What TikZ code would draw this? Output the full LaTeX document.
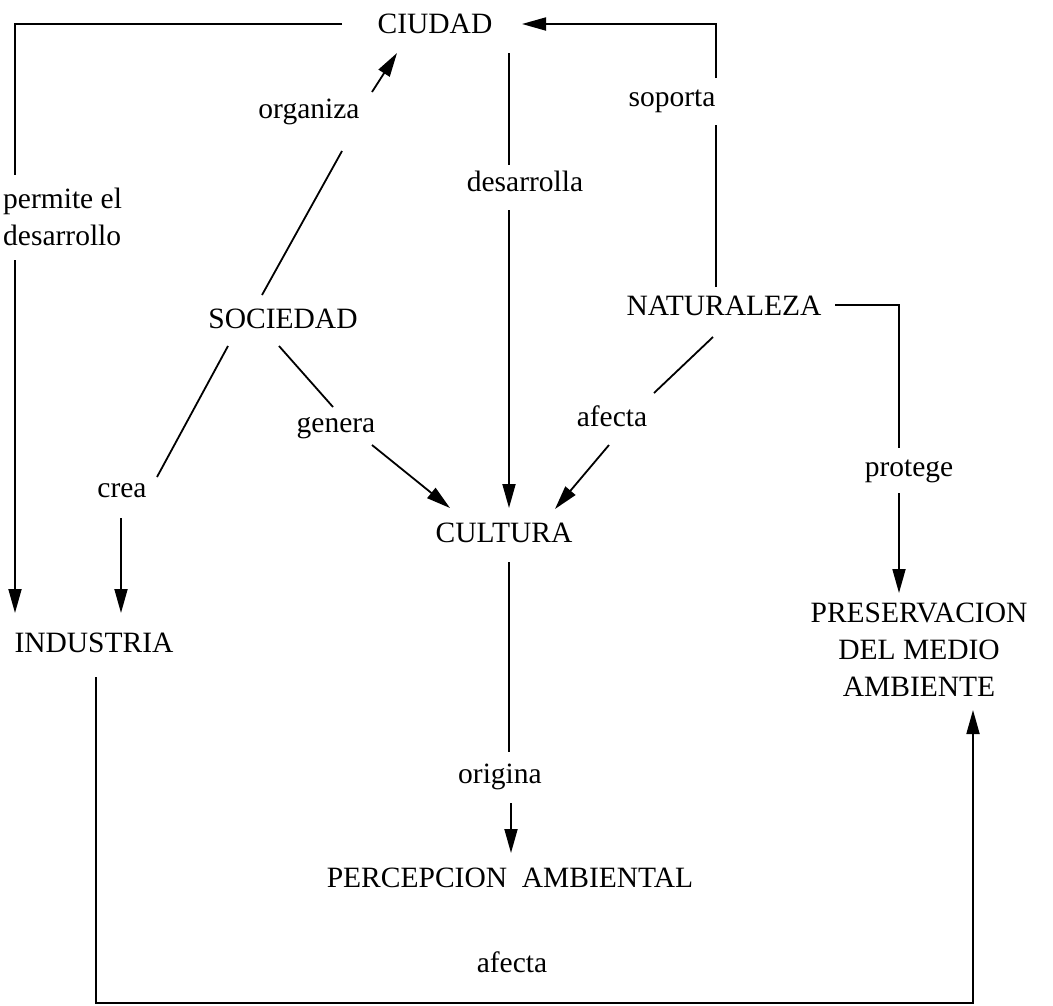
\documentclass[tikz,border=0pt]{standalone}
\usepackage{fontspec}
\setmainfont{Liberation Serif}
\usetikzlibrary{arrows.meta}
\begin{document}
\begin{tikzpicture}[x=1pt,y=-1pt,
  lbl/.style={inner sep=0pt,anchor=base,font=\fontsize{29.5}{36}\selectfont},
  con/.style={line width=1.8pt},
  arr/.style={con,-{Triangle[length=24pt,width=13pt]}}]
\useasboundingbox (0,0) rectangle (1053,1005);

% concepts
\node[lbl] (ciudad) at (435,33) {CIUDAD};
\node[lbl] (sociedad) at (283,328) {SOCIEDAD};
\node[lbl] (naturaleza) at (724,315) {NATURALEZA};
\node[lbl] (cultura) at (504,542) {CULTURA};
\node[lbl] (industria) at (94,652) {INDUSTRIA};
\node[lbl] (pres1) at (919,622) {PRESERVACION};
\node[lbl] (pres2) at (919,659) {DEL MEDIO};
\node[lbl] (pres3) at (919,696) {AMBIENTE};
\node[lbl] (percepcion) at (510,887) {PERCEPCION\hspace{0.5em}AMBIENTAL};

% link words
\node[lbl] (organiza) at (309,118) {organiza};
\node[lbl] (desarrolla) at (525,191) {desarrolla};
\node[lbl] (soporta) at (672,106) {soporta};
\node[lbl,anchor=base west] (permite1) at (3,208) {permite el};
\node[lbl,anchor=base west] (permite2) at (3,245) {desarrollo};
\node[lbl] (genera) at (336,432) {genera};
\node[lbl] (afecta1) at (612,426) {afecta};
\node[lbl] (crea) at (122,497) {crea};
\node[lbl] (protege) at (909,476) {protege};
\node[lbl] (origina) at (500,783) {origina};
\node[lbl] (afecta2) at (512,972) {afecta};

% connector ends
\coordinate (ciu-w) at (342,24);
\coordinate (ciu-corner) at (15,24);
\coordinate (per-top) at (15,175);
\coordinate (per-bot) at (15,260);
\coordinate (ind-in1) at (15,613);

\coordinate (soc-org) at (262,295);
\coordinate (org-bot) at (342,151);
\coordinate (org-top) at (372,92);
\coordinate (ciu-in1) at (397,53);

\coordinate (ciu-s) at (509,53);
\coordinate (des-top) at (509,165);
\coordinate (des-bot) at (509,210);
\coordinate (cul-in1) at (509,508);

\coordinate (nat-n) at (716,287);
\coordinate (sop-bot) at (716,125);
\coordinate (sop-top) at (716,78);
\coordinate (sop-corner) at (716,24);
\coordinate (ciu-in2) at (522,24);

\coordinate (soc-sw) at (228,346);
\coordinate (crea-top) at (157,477);
\coordinate (crea-bot) at (121,518);
\coordinate (ind-in2) at (121,613);

\coordinate (soc-se) at (279,346);
\coordinate (gen-top) at (333,407);
\coordinate (gen-bot) at (372,445);
\coordinate (cul-in2) at (450,508);

\coordinate (nat-sw) at (713,337);
\coordinate (afe-top) at (654,393);
\coordinate (afe-bot) at (609,445);
\coordinate (cul-in3) at (555,509);

\coordinate (nat-e) at (835,305);
\coordinate (nat-corner) at (899,305);
\coordinate (pro-top) at (899,448);
\coordinate (pro-bot) at (899,493);
\coordinate (pres-in1) at (899,593);

\coordinate (cul-s) at (509,562);
\coordinate (ori-top) at (509,752);
\coordinate (ori-bot) at (511,803);
\coordinate (per-in) at (511,853);

\coordinate (ind-s) at (96,677);
\coordinate (bot-l) at (96,1003);
\coordinate (bot-r) at (973,1003);
\coordinate (pres-in2) at (973,710);

% connectors
\draw[con] (ciu-w) -- (ciu-corner) -- (per-top);
\draw[arr] (per-bot) -- (ind-in1);

\draw[con] (soc-org) -- (org-bot);
\draw[arr] (org-top) -- (ciu-in1);

\draw[con] (ciu-s) -- (des-top);
\draw[arr] (des-bot) -- (cul-in1);

\draw[con] (nat-n) -- (sop-bot);
\draw[arr] (sop-top) -- (sop-corner) -- (ciu-in2);

\draw[con] (soc-sw) -- (crea-top);
\draw[arr] (crea-bot) -- (ind-in2);

\draw[con] (soc-se) -- (gen-top);
\draw[arr] (gen-bot) -- (cul-in2);

\draw[con] (nat-sw) -- (afe-top);
\draw[arr] (afe-bot) -- (cul-in3);

\draw[con] (nat-e) -- (nat-corner) -- (pro-top);
\draw[arr] (pro-bot) -- (pres-in1);

\draw[con] (cul-s) -- (ori-top);
\draw[arr] (ori-bot) -- (per-in);

\draw[arr] (ind-s) -- (bot-l) -- (bot-r) -- (pres-in2);
\end{tikzpicture}
\end{document}
